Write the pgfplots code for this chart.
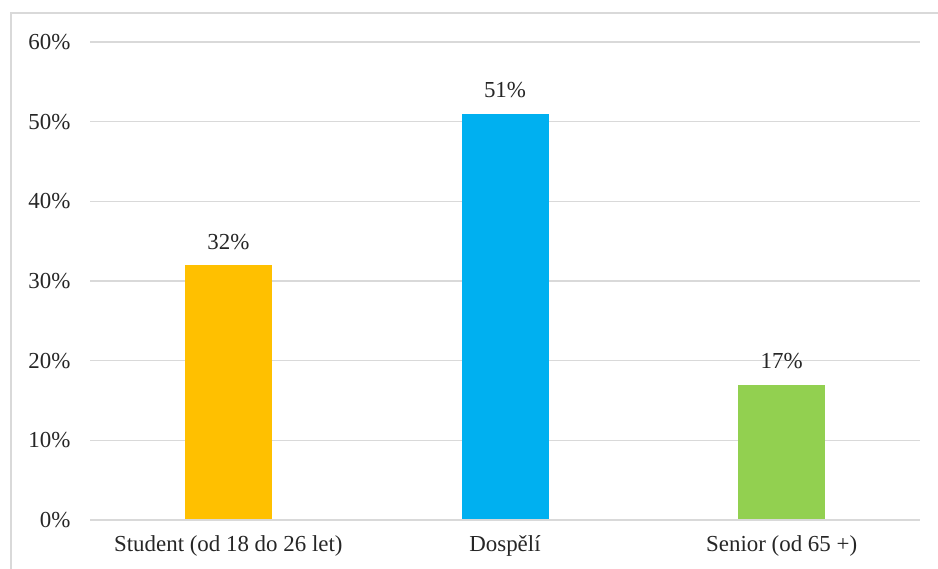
\documentclass[border=0pt]{standalone}
\usepackage{pgfplots}
\pgfplotsset{compat=1.18}
\usepackage{fontspec}
\setmainfont{Liberation Serif}
\definecolor{gridgray}{HTML}{D9D9D9}
\definecolor{barYellow}{HTML}{FFC000}
\definecolor{barBlue}{HTML}{00B0F0}
\definecolor{barGreen}{HTML}{92D050}
\begin{document}
\begin{tikzpicture}[x=1bp,y=1bp]
\useasboundingbox (0,0) rectangle (938,569);
% outer frame of the chart area
\draw[gridgray, line width=2bp] (11,0) -- (11,556) -- (938,556);
\begin{axis}[
  at={(90bp,49bp)}, anchor=south west,
  scale only axis,
  width=830bp, height=478bp,
  xmin=-0.5, xmax=2.5,
  ymin=0, ymax=60,
  ytick={0,10,...,60},
  xtick={0,1,2},
  xticklabels={Student (od 18 do 26 let), Dospělí, Senior (od 65 +)},
  major tick length=0pt,
  axis line style={draw=none},
  ymajorgrids,
  grid style={gridgray, line width=1.3bp},
  /pgf/number format/assume math mode=true,
  yticklabel={\pgfmathprintnumber{\tick}\%},
  tick label style={font=\fontsize{23}{26}\selectfont, text=black!85},
  yticklabel style={anchor=east, xshift=-16bp},
  xticklabel style={anchor=north, yshift=-12bp},
  ybar, bar width=87bp,
  bar shift=0pt,
  nodes near coords={\pgfmathprintnumber{\pgfplotspointmeta}\%},
  nodes near coords style={font=\fontsize{23}{26}\selectfont, text=black!85, anchor=south, yshift=12bp},
  clip=false,
]
\addplot[fill=barYellow, draw=none] coordinates {(0,32)};
\addplot[fill=barBlue, draw=none] coordinates {(1,51)};
\addplot[fill=barGreen, draw=none] coordinates {(2,17)};
\draw[gridgray, line width=1.5bp] (axis cs:-0.5,0) -- (axis cs:2.5,0);
\end{axis}
\end{tikzpicture}
\end{document}
